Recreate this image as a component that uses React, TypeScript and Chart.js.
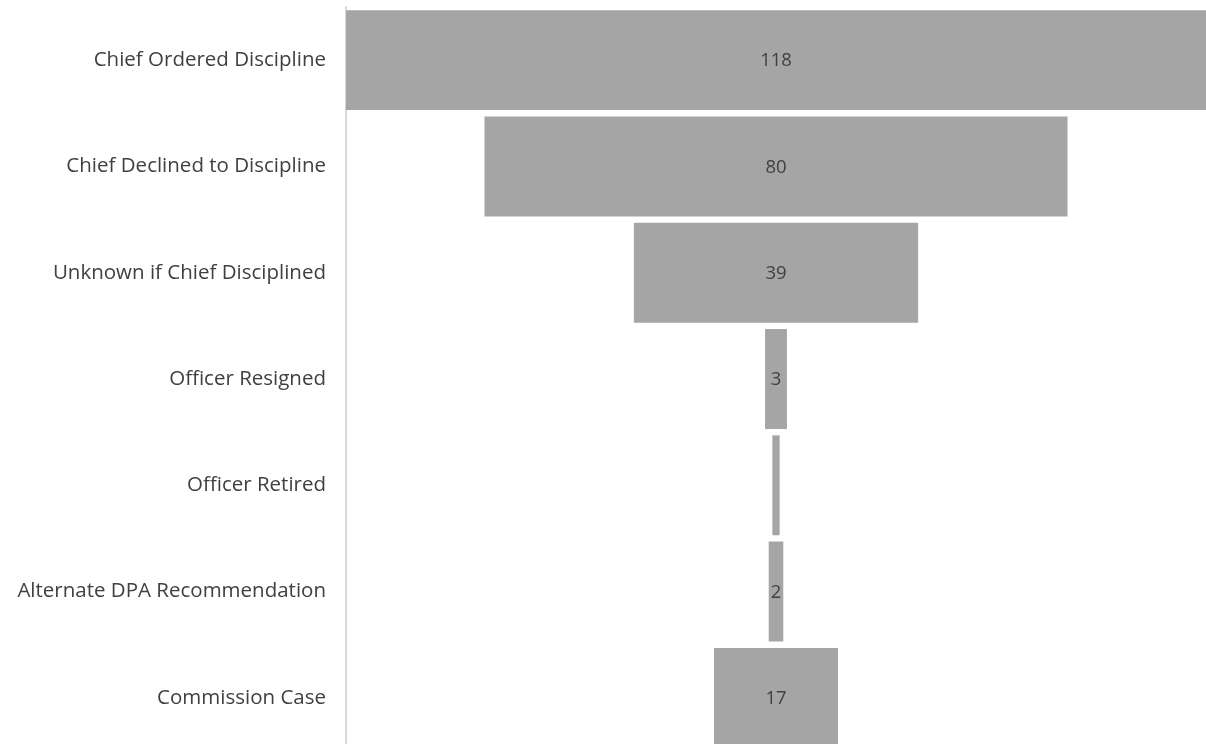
import React, { useEffect, useRef } from "react";
import { Chart, registerables } from "chart.js";

Chart.register(...registerables);

const categories = [
  "Chief Ordered Discipline",
  "Chief Declined to Discipline",
  "Unknown if Chief Disciplined",
  "Officer Resigned",
  "Officer Retired",
  "Alternate DPA Recommendation",
  "Commission Case",
];
const values = [118, 80, 39, 3, 1, 2, 17];
const maxValue = 118;

const FONT = "'Open Sans', 'Segoe UI', sans-serif";

const valueLabels = {
  id: "valueLabels",
  afterDatasetsDraw(chart: any) {
    const ctx = chart.ctx;
    const meta = chart.getDatasetMeta(0);
    ctx.save();
    ctx.font = `18.5px ${FONT}`;
    ctx.fillStyle = "#404040";
    ctx.textAlign = "center";
    ctx.textBaseline = "middle";
    meta.data.forEach((bar: any, i: number) => {
      const txt = String(values[i]);
      const w = Math.abs(bar.x - bar.base);
      const tw = ctx.measureText(txt).width;
      if (w < tw) return;
      const cx = (bar.x + bar.base) / 2;
      ctx.fillText(txt, cx, bar.y + 1);
    });
    ctx.restore();
  },
};

export default function App() {
  const ref = useRef<HTMLCanvasElement>(null);
  useEffect(() => {
    if (!ref.current) return;
    const chart = new Chart(ref.current, {
      type: "bar",
      data: {
        labels: categories,
        datasets: [
          {
            data: values.map((v) => [-v / 2, v / 2]) as any,
            backgroundColor: "#a5a5a5",
            borderWidth: 0,
            categoryPercentage: 1,
            barPercentage: 0.94,
          },
        ],
      },
      options: {
        indexAxis: "y",
        animation: false,
        responsive: false,
        maintainAspectRatio: false,
        layout: { padding: { top: 7, bottom: 0, left: 0, right: 0 } },
        plugins: { legend: { display: false }, tooltip: { enabled: false } },
        scales: {
          x: { display: false, min: -maxValue / 2, max: maxValue / 2 },
          y: {
            grid: { display: false },
            border: { display: true, color: "#d9d9d9", width: 2 },
            ticks: { color: "#404040", font: { family: FONT, size: 20.5 }, padding: 12 },
            afterFit(scale: any) {
              scale.width = 346;
              scale.paddingTop = 0;
              scale.paddingBottom = 0;
            },
          },
        },
      },
      plugins: [valueLabels],
    });
    return () => chart.destroy();
  }, []);
  return (
    <div style={{ position: "fixed", left: 0, top: 0, width: 1206, height: 751, background: "#fff" }}>
      <canvas ref={ref} width={1206} height={751} style={{ width: 1206, height: 751, display: "block" }} />
    </div>
  );
}
